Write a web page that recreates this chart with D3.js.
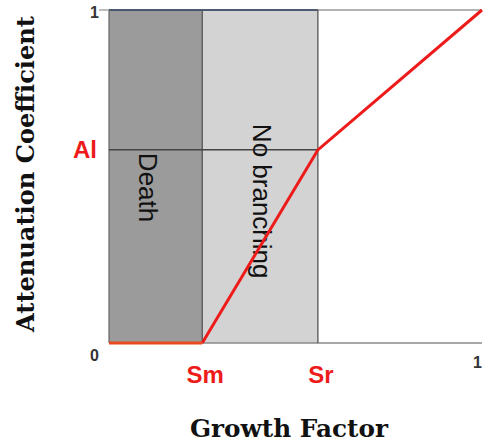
<!DOCTYPE html>
<html><head><meta charset="utf-8">
<script src="https://cdn.jsdelivr.net/npm/d3@7"></script>
<style>body{margin:0;background:#fff}svg{display:block}</style>
</head><body>
<script>
// Data
const thresholdNames = ["Sm", "Sr"];
const thresholdValues = [0.25, 0.56];
const alName = "Al";
const alValue = 0.58;
const regionNames = ["Death", "No branching"];
const regionStarts = [0, 0.25];
const regionEnds = [0.25, 0.56];
const curveX = [0, 0.25, 0.56, 1];
const curveY = [0, 0, 0.58, 1];
const xTickValues = [1];
const yTickValues = [0, 1];
const xTitle = "Growth Factor";
const yTitle = "Attenuation Coefficient";

const W = 483, H = 446;
const svg = d3.select("body").append("svg").attr("width", W).attr("height", H);
const x = d3.scaleLinear().domain([0, 1]).range([109, 482]);
const y = d3.scaleLinear().domain([0, 1]).range([343, 10]);
const regionFill = ["#9b9b9b", "#d3d3d3"];

// regions
regionNames.forEach((n, i) => {
  svg.append("rect").attr("x", x(regionStarts[i])).attr("y", y(1))
    .attr("width", x(regionEnds[i]) - x(regionStarts[i])).attr("height", y(0) - y(1))
    .attr("fill", regionFill[i]);
});

// frame lines
svg.append("line").attr("x1", x(0)).attr("x2", x(1)).attr("y1", y(1)).attr("y2", y(1))
  .attr("stroke", "#999").attr("stroke-width", 1.5);
svg.append("line").attr("x1", x(0)).attr("x2", x(regionEnds[1])).attr("y1", y(1)).attr("y2", y(1))
  .attr("stroke", "#2c3e5c").attr("stroke-width", 1.5);
svg.append("line").attr("x1", x(0)).attr("x2", x(1)).attr("y1", y(0)).attr("y2", y(0))
  .attr("stroke", "#8a8a8a").attr("stroke-width", 1.5);
svg.append("line").attr("x1", x(0)).attr("x2", x(0)).attr("y1", y(0)).attr("y2", y(1))
  .attr("stroke", "#666").attr("stroke-width", 1.2);
thresholdValues.forEach(v => {
  svg.append("line").attr("x1", x(v)).attr("x2", x(v)).attr("y1", y(0)).attr("y2", y(1))
    .attr("stroke", "#555").attr("stroke-width", 1.3);
});
svg.append("line").attr("x1", x(0)).attr("x2", x(regionEnds[1])).attr("y1", y(alValue)).attr("y2", y(alValue))
  .attr("stroke", "#444").attr("stroke-width", 1.5);

// y axis tick (top)
svg.append("line").attr("x1", x(0) - 10).attr("x2", x(0)).attr("y1", y(1)).attr("y2", y(1))
  .attr("stroke", "#999").attr("stroke-width", 1.3);

// region labels
regionNames.forEach((n, i) => {
  const cx = (x(regionStarts[i]) + x(regionEnds[i])) / 2;
  const offs = i === 0 ? -17 : -7;
  const y0 = i === 0 ? y(alValue) + 3 : y(alValue) - 26;
  svg.append("text").attr("transform", `translate(${cx + offs},${y0}) rotate(90)`)
    .attr("font-family", "Liberation Sans, Arial, sans-serif").attr("font-size", 26)
    .attr("fill", "#111").text(n);
});

// curve
const pts = curveX.map((d, i) => [d, curveY[i]]);
svg.append("path").datum(pts.slice(1))
  .attr("d", d3.line().x(d => x(d[0])).y(d => y(d[1])))
  .attr("fill", "none").attr("stroke", "#ee1b1b").attr("stroke-width", 3);
svg.append("path").datum(pts.slice(0, 2))
  .attr("d", d3.line().x(d => x(d[0])).y(d => y(d[1])))
  .attr("fill", "none").attr("stroke", "#ea4a20").attr("stroke-width", 3);

// tick labels
const tickFont = "Liberation Sans, Arial, sans-serif";
yTickValues.forEach(v => {
  svg.append("text").attr("x", x(0) - 10).attr("y", v === 1 ? y(v) + 8 : y(v) + 18)
    .attr("text-anchor", "end").attr("font-family", tickFont).attr("font-size", 16)
    .attr("font-weight", "bold").attr("fill", "#333").text(v);
});
xTickValues.forEach(v => {
  svg.append("text").attr("x", x(v)).attr("y", y(0) + 25)
    .attr("text-anchor", "end").attr("font-family", tickFont).attr("font-size", 16)
    .attr("font-weight", "bold").attr("fill", "#333").text(v);
});

// red labels
thresholdNames.forEach((n, i) => {
  svg.append("text").attr("x", x(thresholdValues[i]) + 3).attr("y", 383)
    .attr("text-anchor", "middle").attr("font-family", tickFont).attr("font-size", 24)
    .attr("font-weight", "bold").attr("fill", "#ee1b1b").text(n);
});
svg.append("text").attr("x", 97).attr("y", y(alValue) + 8)
  .attr("text-anchor", "end").attr("font-family", tickFont).attr("font-size", 24)
  .attr("font-weight", "bold").attr("fill", "#ee1b1b").text(alName);

// axis titles
svg.append("text").attr("x", 289).attr("y", 437).attr("text-anchor", "middle")
  .attr("font-family", "DejaVu Serif, serif").attr("font-weight", "bold").attr("font-size", 25)
  .attr("textLength", 198).attr("lengthAdjust", "spacingAndGlyphs")
  .attr("fill", "#111").text(xTitle);
svg.append("text").attr("transform", "translate(34,174) rotate(-90)").attr("text-anchor", "middle")
  .attr("font-family", "DejaVu Serif, serif").attr("font-weight", "bold").attr("font-size", 25)
  .attr("textLength", 316).attr("lengthAdjust", "spacingAndGlyphs")
  .attr("fill", "#111").text(yTitle);
</script>
</body></html>
